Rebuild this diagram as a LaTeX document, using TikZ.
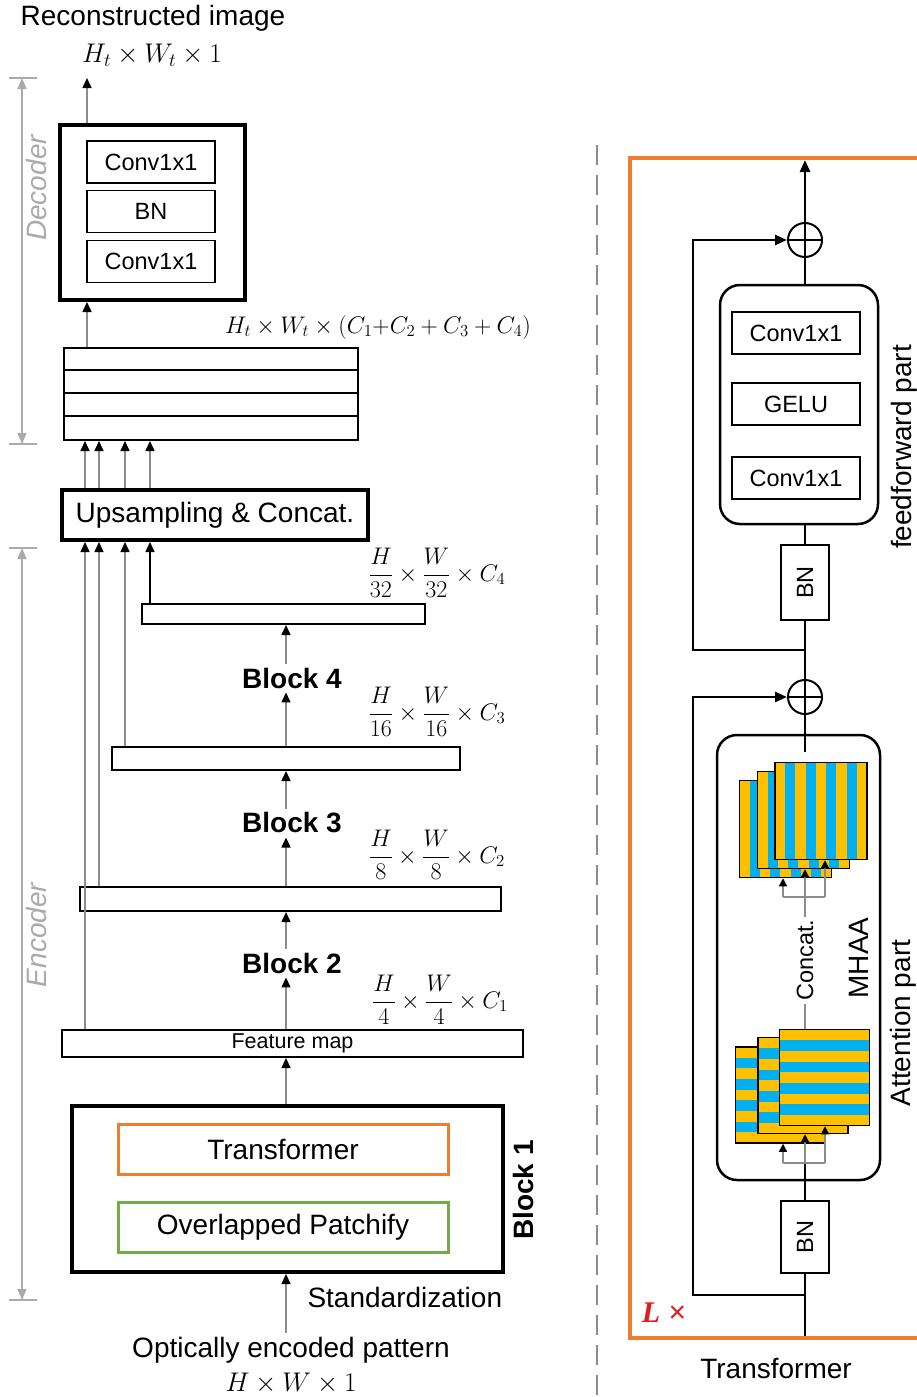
\documentclass[tikz,border=0pt]{standalone}
\usepackage{fix-cm}
\usepackage{amsmath}
\usepackage[no-math]{fontspec}
\setmainfont{Liberation Sans}
\newfontfamily\serifL{Liberation Serif}
\usepackage{graphicx}
\usepackage{xcolor}
\definecolor{orangeT}{RGB}{237,125,49}
\definecolor{greenP}{RGB}{112,173,71}
\definecolor{stripeY}{RGB}{255,192,0}
\definecolor{stripeB}{RGB}{0,176,240}
\definecolor{greyLine}{RGB}{140,140,140}
\definecolor{greyDim}{RGB}{170,170,170}
\definecolor{redL}{RGB}{220,30,30}
\usepackage{tikz}
\usetikzlibrary{arrows.meta, positioning, calc}

\begin{document}
\begin{tikzpicture}[x=1pt, y=-1pt,
  big/.style={font=\fontsize{28}{32}\selectfont},
  mid/.style={font=\fontsize{23.5}{27}\selectfont},
  mth/.style={font=\fontsize{24}{28}\selectfont},
  bb/.style={font=\fontsize{28}{32}\selectfont\bfseries, inner sep=4pt},
  blk/.style={draw, line width=4pt, fill=white, inner sep=0},
  sub/.style={draw, line width=1.5pt, minimum width=128pt, minimum height=42pt, inner sep=0, mid},
  bar/.style={draw, line width=2pt, inner sep=0},
  arr/.style={draw=greyLine, line width=1.5pt, -{Triangle[length=10pt,width=9pt,color=black]}},
  sarr/.style={draw=greyLine, line width=1.2pt, -{Triangle[length=8pt,width=8pt,color=black]}},
  dim/.style={draw=greyDim, line width=1.5pt, {Triangle[length=11pt,width=9pt]}-{Triangle[length=11pt,width=9pt]}},
  side/.style={rotate=90, text=greyDim, font=\fontsize{28}{32}\selectfont\itshape},
  ln/.style={line width=2.5pt},
  sk/.style={line width=2.5pt, -{Triangle[length=12pt,width=10pt]}},
  add/.style={circle, draw, line width=2pt, fill=white, minimum size=34pt, inner sep=0,
    path picture={\draw[line width=2pt] (path picture bounding box.north) -- (path picture bounding box.south)
      (path picture bounding box.west) -- (path picture bounding box.east);}},
  rbox/.style={draw, line width=2.5pt, rounded corners=20pt, inner sep=0},
  bnv/.style={draw, line width=1.5pt, minimum width=48pt, inner sep=0, mid},
  vsq/.style={draw, line width=1.5pt, fill=stripeY, minimum width=92pt, minimum height=97pt, inner sep=0,
    path picture={\foreach \k in {1,3,5,7}
      \fill[stripeB] ([xshift=\k*92pt/9]path picture bounding box.south west) rectangle
                     ([xshift=(\k+1)*92pt/9]path picture bounding box.north west);}},
  hsq/.style={draw, line width=1.5pt, fill=stripeY, minimum width=90pt, minimum height=96pt, inner sep=0,
    path picture={\foreach \k in {1,3,5,7}
      \fill[stripeB] ([yshift=\k*96pt/9]path picture bounding box.south west) rectangle
                     ([yshift=(\k+1)*96pt/9]path picture bounding box.south east);}}
]
  \useasboundingbox (0,0) rectangle (917,1397);

  % decoder
  \node[big] (ttl) at (153,18) {Reconstructed image};
  \node[font=\fontsize{27}{30}\selectfont] (odim) at (152,55) {$H_t\times W_t\times 1$};
  \node[blk, minimum width=185pt, minimum height=175pt] (dec) at (152.5,212.5) {};
  \node[sub] (dc1) at (151,162) {Conv1x1};
  \node[sub] (dbn) at (151,211.5) {BN};
  \node[sub] (dc2) at (151,261.5) {Conv1x1};
  \coordinate (otip) at (87,78);
  \draw[arr] (dec.north -| otip) -- (otip);

  \node[mth] (cdim) at (378,327) {$H_t\times W_t\times(C_1{+}C_2+C_3+C_4)$};
  \node[bar, minimum width=294pt, minimum height=92pt] (stk) at (211,394) {};
  \foreach \k in {1,2,3}
    \draw[line width=2pt] ([yshift=-\k*23pt]stk.north west) -- ([yshift=-\k*23pt]stk.north east);
  \draw[arr] (stk.north -| otip) -- (dec.south -| otip);

  \node[blk, big, minimum width=306pt, minimum height=50pt] (ups) at (215,515) {Upsampling \& Concat.};
  \foreach \x in {85,99,125,150} {
    \coordinate (u\x) at (\x,0);
    \draw[arr] (ups.north -| u\x) -- (stk.south -| u\x);
  }

  % encoder
  \node[bar, minimum width=283pt, minimum height=20pt] (b4) at (283.5,614) {};
  \node[bar, minimum width=348pt, minimum height=23pt] (b3) at (286,758.5) {};
  \node[bar, minimum width=421pt, minimum height=24pt] (b2) at (290.5,899) {};
  \node[bar, minimum width=461pt, minimum height=27pt, font=\fontsize{21.5}{24}\selectfont] (fm) at (292.5,1043.5) {Feature map};

  \node[mth] (d4) at (437,573) {$\dfrac{H}{32}\times\dfrac{W}{32}\times C_4$};
  \node[mth] (d3) at (437,712) {$\dfrac{H}{16}\times\dfrac{W}{16}\times C_3$};
  \node[mth] (d2) at (437,855) {$\dfrac{H}{8}\times\dfrac{W}{8}\times C_2$};
  \node[mth] (d1) at (440,1000) {$\dfrac{H}{4}\times\dfrac{W}{4}\times C_1$};

  \node[bb] (k4) at (292,678) {Block 4};
  \node[bb] (k3) at (292,823) {Block 3};
  \node[bb] (k2) at (292,963) {Block 2};

  \coordinate (mx) at (286,0);
  \draw[arr] (b3.north -| mx) -- (k4.south -| mx);
  \draw[arr] (k4.north -| mx) -- (b4.south -| mx);
  \draw[arr] (b2.north -| mx) -- (k3.south -| mx);
  \draw[arr] (k3.north -| mx) -- (b3.south -| mx);
  \draw[arr] (fm.north -| mx) -- (k2.south -| mx);
  \draw[arr] (k2.north -| mx) -- (b2.south -| mx);

  \draw[arr] (fm.north -| u85) -- (ups.south -| u85);
  \draw[arr] (b2.north -| u99) -- (ups.south -| u99);
  \draw[arr] (b3.north -| u125) -- (ups.south -| u125);
  \draw[arr, draw=black] (b4.north -| u150) -- (ups.south -| u150);

  \node[blk, minimum width=431pt, minimum height=166pt] (bk1) at (287.5,1189) {};
  \node[draw=orangeT, line width=3pt, minimum width=330pt, minimum height=50pt, big] (tr) at (283,1149) {Transformer};
  \node[draw=greenP, line width=3pt, minimum width=330pt, minimum height=50pt, big] (op) at (283,1227) {Overlapped Patchify};
  \node[bb, rotate=90] (k1) at (523,1190) {Block 1};
  \draw[arr] (bk1.north -| mx) -- (fm.south -| mx);

  \node[big] (inp) at (291,1350) {Optically encoded pattern};
  \node[font=\fontsize{27}{30}\selectfont] (idim) at (291,1383) {$H\times W\times 1$};
  \draw[arr] (inp.north -| mx) -- (bk1.south -| mx);
  \node[big, anchor=west] (std) at (304,1297) {Standardization};

  % side dimension lines
  \draw[dim] (22,78) -- (22,444);
  \draw[draw=greyDim, line width=1.5pt] (9,78) -- (37,78) (9,444) -- (37,444);
  \draw[dim] (22,548) -- (22,1300);
  \draw[draw=greyDim, line width=1.5pt] (9,548) -- (37,548) (9,1300) -- (37,1300);
  \node[side] (dlab) at (36,188) {Decoder};
  \node[side] (elab) at (36,935) {Encoder};

  % transformer detail
  \draw[draw=greyLine, line width=2.5pt, dash pattern=on 20pt off 10pt] (597,145) -- (597,1397);
  \draw[draw=orangeT, line width=4pt] (925,158) -- (630,158) -- (630,1338) -- (925,1338);

  \node[add] (p2) at (805,240) {};
  \node[add] (p1) at (805,697) {};
  \node[rbox, minimum width=158pt, minimum height=239pt] (ff) at (799,404.5) {};
  \node[sub] (f1) at (796,333) {Conv1x1};
  \node[sub] (f2) at (796,404) {GELU};
  \node[sub] (f3) at (796,478) {Conv1x1};
  \node[bnv, minimum height=75pt] (bn2) at (805,582.5) {\rotatebox{90}{BN}};
  \node[rbox, minimum width=163pt, minimum height=445pt] (att) at (798.5,957.5) {};
  \node[bnv, minimum height=72pt] (bn1) at (805,1237) {\rotatebox{90}{BN}};

  \coordinate (mr) at (805,0);
  \coordinate (otop) at (805,160);
  \coordinate (atop) at (805,752);
  \coordinate (tin) at (805,1336);
  \coordinate (j2) at (805,650);
  \coordinate (j1) at (805,1295);
  \coordinate (s2) at (693,650);
  \coordinate (s1) at (693,1295);

  \draw[sk] (p2.north) -- (otop);
  \draw[ln] (ff.north -| mr) -- (p2.south);
  \draw[ln] (bn2.north) -- (ff.south -| mr);
  \draw[ln] (p1.north) -- (bn2.south);
  \draw[sk] (j2) -- (s2) |- (p2.west);
  \draw[ln] (p1.south) -- (atop);
  \draw[ln] (bn1.north) -- (att.south -| mr);
  \draw[ln] (tin) -- (bn1.south);
  \draw[sk] (j1) -- (s1) |- (p1.west);

  % heads
  \node[vsq] (ta) at (785.5,829) {};
  \node[vsq] (tb) at (803.5,820) {};
  \node[vsq] (tc) at (821,811) {};
  \node[hsq] (ua) at (780.5,1095) {};
  \node[hsq] (ub) at (803,1085.5) {};
  \node[hsq] (uc) at (824.5,1077.5) {};

  \coordinate (bl1) at (783,1163);
  \coordinate (bm1) at (805,1163);
  \coordinate (br1) at (825,1163);
  \coordinate (bl2) at (783,897);
  \coordinate (bm2) at (805,897);
  \coordinate (br2) at (825,897);

  \draw[ln] (att.south -| mr) -- (bm1);
  \draw[draw=greyLine, line width=1.2pt] (bl1) -- (br1) (bl2) -- (br2);
  \draw[sarr] (bl1) -- (ua.south -| bl1);
  \draw[sarr] (bm1) -- (ub.south -| bm1);
  \draw[sarr] (br1) -- (uc.south -| br1);
  \draw[sarr] (bl2) -- (ta.south -| bl2);
  \draw[sarr] (bm2) -- (tb.south -| bm2);
  \draw[sarr] (br2) -- (tc.south -| br2);
  \draw[draw=greyLine, line width=1.2pt] (uc.north -| bm2) -- (bm2);
  \node[mid, rotate=90, fill=white, inner sep=3pt] (cc) at (805,960) {Concat.};

  \node[big, rotate=90] (mh) at (859,958) {MHAA};
  \node[big, rotate=90] (atl) at (903,1023) {Attention part};
  \node[big, rotate=90] (ffl) at (904,447) {feedforward part};
  \node[text=redL, font=\fontsize{30}{34}\selectfont] (lx) at (664,1313) {{\serifL\bfseries\itshape L} ×};
  \node[big] (trl) at (776,1368) {Transformer};
\end{tikzpicture}
\end{document}
